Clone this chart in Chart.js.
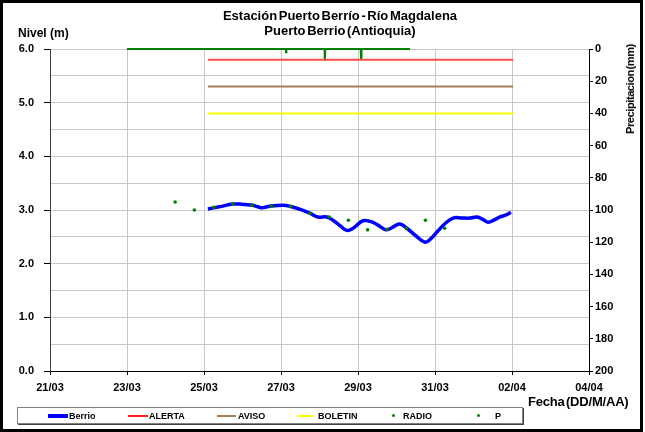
<!DOCTYPE html>
<html lang="es">
<head>
    <meta charset="UTF-8">
    <title>Estación Puerto Berrío - Río Magdalena</title>
    <script src="https://cdn.jsdelivr.net/npm/chart.js"></script>
    <style>
        body { margin: 0; background: #fff; font-family: "Liberation Sans", Arial, sans-serif; }
        #wrap { position: relative; width: 645px; height: 432px; }
        #frame { position: absolute; left: 0; top: 0; width: 643px; height: 432px; box-sizing: border-box; border: 3px solid #000; pointer-events: none; }
        .txt { position: absolute; font-weight: bold; color: #000; white-space: nowrap; }
        #titulo { left: 0; width: 680px; top: 8px; text-align: center; font-size: 13px; line-height: 15px; word-spacing: -2px; }
        #nivel { left: 18px; top: 26px; font-size: 12px; }
        #precip { left: 630px; top: 89px; font-size: 11px; letter-spacing: -0.4px; transform: translate(-50%, -50%) rotate(-90deg); word-spacing: -2px; }
        #fecha { left: 528px; top: 394px; font-size: 13px; letter-spacing: -0.2px; word-spacing: -2px; }
        #leyenda { position: absolute; left: 17px; top: 407px; width: 506px; height: 17px; box-sizing: border-box; border: 1px solid #808080; box-shadow: 1px 1px 0 #404040; }
        .item { position: absolute; top: 3px; font-size: 9px; font-weight: bold; line-height: 10px; }
        .linea { position: absolute; height: 2px; top: 7px; }
        .punto { position: absolute; width: 3px; height: 3px; top: 6px; background: #008000; border-radius: 50%; }
    </style>
</head>
<body>
<div id="wrap">
    <canvas id="grafico" width="645" height="432"></canvas>
    <div id="titulo" class="txt">Estación Puerto Berrío - Río Magdalena<br>Puerto Berrio (Antioquia)</div>
    <div id="nivel" class="txt">Nivel (m)</div>
    <div id="precip" class="txt">Precipitacion (mm)</div>
    <div id="fecha" class="txt">Fecha (DD/M/AA)</div>
    <div id="leyenda">
        <div class="linea" style="left:30px;width:20px;height:4px;top:6px;background:#0000ff"></div>
        <div class="item" style="left:51px">Berrio</div>
        <div class="linea" style="left:110px;width:20px;background:#ff2020"></div>
        <div class="item" style="left:131px">ALERTA</div>
        <div class="linea" style="left:199px;width:19px;background:#a87c55"></div>
        <div class="item" style="left:220px">AVISO</div>
        <div class="linea" style="left:279px;width:16px;background:#ffff00"></div>
        <div class="item" style="left:300px">BOLETIN</div>
        <div class="punto" style="left:374px"></div>
        <div class="item" style="left:385px">RADIO</div>
        <div class="punto" style="left:459px"></div>
        <div class="item" style="left:477px">P</div>
    </div>
    <div id="frame"></div>
</div>

<script>
    // dias contados desde el 21/03 a las 00:00
    const fechaBase = [21, 3];
    const xTicks = [0, 2, 4, 6, 8, 10, 12, 14];

    // nivel Berrio (m)
    const berrioDia = [4.10, 4.40, 4.75, 4.94, 5.25, 5.40, 5.51, 5.71, 6.05, 6.23, 6.50, 6.75, 6.96, 7.19, 7.35, 7.55, 7.71, 7.87,
        8.13, 8.39, 8.60, 8.75, 8.95, 9.09, 9.27, 9.50, 9.74, 9.90, 10.05, 10.25, 10.47, 10.70, 10.91, 11.09, 11.25, 11.38, 11.55,
        11.69, 11.85, 11.97];
    const berrioNivel = [3.02, 3.06, 3.11, 3.11, 3.09, 3.06, 3.04, 3.07, 3.09, 3.07, 3.01, 2.94, 2.87, 2.87, 2.81, 2.70, 2.62, 2.66,
        2.80, 2.77, 2.68, 2.63, 2.70, 2.74, 2.66, 2.52, 2.40, 2.47, 2.59, 2.74, 2.85, 2.85, 2.85, 2.87, 2.82, 2.77, 2.82,
        2.87, 2.91, 2.96];

    // lecturas de radio (m)
    const radioDia = [3.25, 3.75, 4.25, 4.75, 5.25, 5.75, 6.25, 6.75, 7.25, 7.75, 8.25, 8.75, 9.25, 9.75, 10.25];
    const radioNivel = [3.15, 3.00, 3.05, 3.11, 3.09, 3.07, 3.07, 2.94, 2.87, 2.81, 2.63, 2.64, 2.66, 2.81, 2.66];

    // umbrales (m)
    const umbralDia = [4.1, 12.03];
    const alerta = 5.8;
    const aviso = 5.3;
    const boletin = 4.8;

    // precipitacion P (mm)
    const pDia = [2.0, 6.12, 6.13, 6.14, 7.13, 7.14, 7.15, 8.07, 8.08, 8.09, 9.35];
    const pMm = [0, 0, 2, 0, 0, 7.5, 0, 0, 6, 0, 0];

    const pares = (xs, ys) => xs.map((x, i) => ({ x: x, y: ys[i] }));
    const umbral = v => umbralDia.map(x => ({ x: x, y: v }));

    const fuente = { family: '"Liberation Sans", Arial, sans-serif', size: 11, weight: 'bold' };

    function fechaTxt(d) {
        const f = new Date(2011, fechaBase[1] - 1, fechaBase[0] + d);
        return String(f.getDate()).padStart(2, '0') + '/' + String(f.getMonth() + 1).padStart(2, '0');
    }

    new Chart(document.getElementById('grafico'), {
        type: 'scatter',
        data: {
            datasets: [
                { label: 'RADIO', data: pares(radioDia, radioNivel), yAxisID: 'y', order: 0,
                  pointRadius: 1.8, pointBackgroundColor: '#008000', pointBorderWidth: 0, showLine: false },
                { label: 'Berrio', data: pares(berrioDia, berrioNivel), yAxisID: 'y', order: 1,
                  borderColor: '#0000ff', borderWidth: 3.5, pointRadius: 0, showLine: true, tension: 0.4 },
                { label: 'ALERTA', data: umbral(alerta), yAxisID: 'y', order: 2,
                  borderColor: '#ff4d4d', borderWidth: 2, pointRadius: 0, showLine: true },
                { label: 'AVISO', data: umbral(aviso), yAxisID: 'y', order: 3,
                  borderColor: '#a87c55', borderWidth: 2, pointRadius: 0, showLine: true },
                { label: 'BOLETIN', data: umbral(boletin), yAxisID: 'y', order: 4,
                  borderColor: '#ffff00', borderWidth: 2, pointRadius: 0, showLine: true },
                { label: 'P', data: pares(pDia, pMm), yAxisID: 'y2', order: 5, clip: false,
                  borderColor: '#008000', borderWidth: 2, pointRadius: 0, showLine: true }
            ]
        },
        options: {
            responsive: false,
            animation: false,
            layout: { padding: { left: 0, right: 0, top: 49, bottom: 35 } },
            plugins: { legend: { display: false }, tooltip: { enabled: false } },
            scales: {
                x: {
                    type: 'linear', min: 0, max: 14,
                    afterBuildTicks: s => { s.ticks = xTicks.map(v => ({ value: v })); },
                    afterFit: s => { s.height = 26; },
                    ticks: { color: '#000', font: fuente, padding: 6, maxRotation: 0, callback: v => fechaTxt(v) },
                    grid: { color: '#c8c8c8', tickColor: '#000', tickLength: 4 },
                    border: { color: '#000', width: 1 }
                },
                y: {
                    position: 'left', min: 0, max: 6,
                    afterFit: s => { s.width = 50; },
                    ticks: { stepSize: 0.5, color: '#000', font: fuente, padding: 10,
                             callback: v => (v % 1 === 0 ? v.toFixed(1) : '') },
                    grid: { color: '#c8c8c8', tickLength: 6,
                            tickColor: c => (c.tick && c.tick.value % 1 === 0 ? '#000' : 'rgba(0,0,0,0)') },
                    border: { color: '#404040', width: 1 }
                },
                y2: {
                    position: 'right', min: 0, max: 200, reverse: true,
                    afterFit: s => { s.width = 56; },
                    ticks: { stepSize: 20, color: '#000', font: fuente, padding: 2 },
                    grid: { drawOnChartArea: false, tickColor: '#000', tickLength: 4 },
                    border: { color: '#000', width: 1 }
                }
            }
        }
    });
</script>
</body>
</html>
